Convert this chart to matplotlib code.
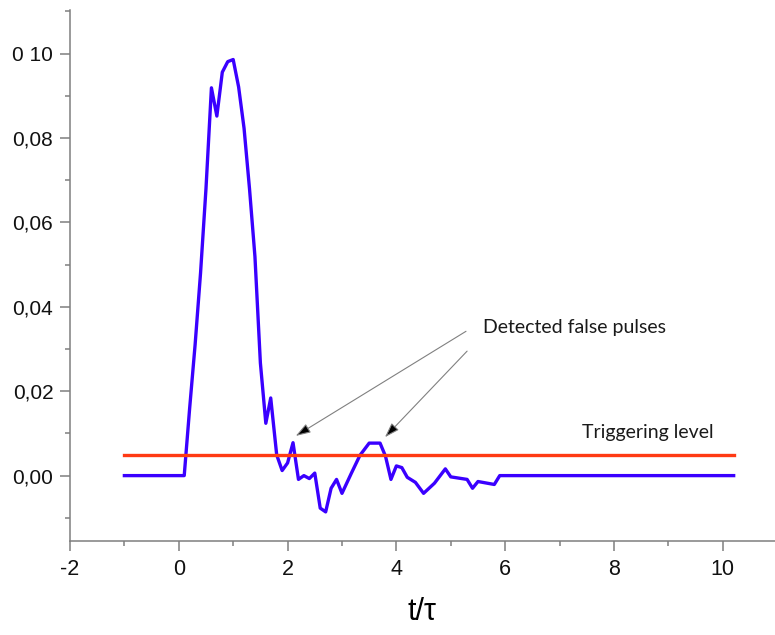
import matplotlib
matplotlib.use("Agg")
import matplotlib.pyplot as plt
from matplotlib.ticker import FixedLocator, MultipleLocator

# signal
t = [-1.0, 0.1, 0.2, 0.3, 0.4, 0.5, 0.6, 0.7, 0.8, 0.9, 1.0, 1.1, 1.2, 1.3,
     1.4, 1.5, 1.6, 1.69, 1.8, 1.9, 2.0, 2.1, 2.2, 2.3, 2.4, 2.5, 2.6, 2.7,
     2.8, 2.9, 3.0, 3.17, 3.33, 3.5, 3.7, 3.8, 3.9, 4.0, 4.1, 4.2, 4.35, 4.5,
     4.7, 4.9, 5.0, 5.3, 5.4, 5.5, 5.8, 5.9, 10.2]
signal = [0.0, 0.0, 0.016, 0.031, 0.048, 0.068, 0.0919, 0.0852, 0.0956, 0.0981,
          0.0986, 0.0921, 0.0823, 0.068, 0.0519, 0.0267, 0.0124, 0.0184, 0.0049,
          0.0012, 0.003, 0.0078, -0.0009, 0.0, -0.0007, 0.0006, -0.0077, -0.0086,
          -0.003, -0.0009, -0.0042, 0.0005, 0.0048, 0.0077, 0.0077, 0.0046,
          -0.0009, 0.0023, 0.0019, -0.0004, -0.0016, -0.0042, -0.0018, 0.0016,
          -0.0003, -0.0009, -0.003, -0.0014, -0.0021, 0.0, 0.0]

level_t = [-1.0, 10.2]
level = [0.005, 0.005]

xticks = [-2, 0, 2, 4, 6, 8, 10]
xtick_labels = ["-2", "0", "2", "4", "6", "8", "10"]
yticks = [0.0, 0.02, 0.04, 0.06, 0.08, 0.10]
ytick_labels = ["0,00", "0,02", "0,04", "0,06", "0,08", "0 10"]

fig = plt.figure(figsize=(7.75, 6.35), dpi=100)
ax = fig.add_axes([0.0903, 0.148, 0.9097, 0.836])

ax.plot(t, signal, color="#3a00ff", lw=2.4, solid_joinstyle="round")
ax.plot(level_t, level, color="#ff3a14", lw=2.4)

ax.set_xlim(-2, 10.96)
ax.set_ylim(-0.0155, 0.1103)

ax.xaxis.set_major_locator(FixedLocator(xticks))
ax.set_xticklabels(xtick_labels)
ax.xaxis.set_minor_locator(MultipleLocator(1))
ax.yaxis.set_major_locator(FixedLocator(yticks))
ax.set_yticklabels(ytick_labels)
ax.yaxis.set_minor_locator(MultipleLocator(0.01))

for side in ["top", "right"]:
    ax.spines[side].set_visible(False)
for side in ["left", "bottom"]:
    ax.spines[side].set_color("#7f7f7f")
    ax.spines[side].set_linewidth(1.1)

ax.tick_params(which="major", length=7, width=1.1, color="#7f7f7f")
ax.tick_params(which="minor", length=3.5, width=1.1, color="#7f7f7f")
ax.tick_params(axis="x", labelsize=15.5, pad=6)
ax.tick_params(axis="y", labelsize=15, pad=5)
for lab in ax.get_xticklabels() + ax.get_yticklabels():
    lab.set_family("Liberation Sans")
    lab.set_color("#111111")

ax.set_xlabel("t/\u03c4", fontsize=22, family="Liberation Sans", labelpad=12)

arrow = dict(arrowstyle="-|>,head_length=0.9,head_width=0.3",
             edgecolor="#808080", facecolor="black", lw=0.8,
             shrinkA=0, shrinkB=0)
ax.annotate("", xy=(2.15, 0.0094), xytext=(5.28, 0.0342), arrowprops=arrow)
ax.annotate("", xy=(3.79, 0.0091), xytext=(5.30, 0.0295), arrowprops=arrow)

ax.text(5.59, 0.0352, "Detected false pulses", fontsize=14, family="Lato",
        color="#1a1a1a", va="center", ha="left")
ax.text(7.41, 0.0103, "Triggering level", fontsize=14, family="Lato",
        color="#1a1a1a", va="center", ha="left")

fig.savefig("out.png", dpi=100)
